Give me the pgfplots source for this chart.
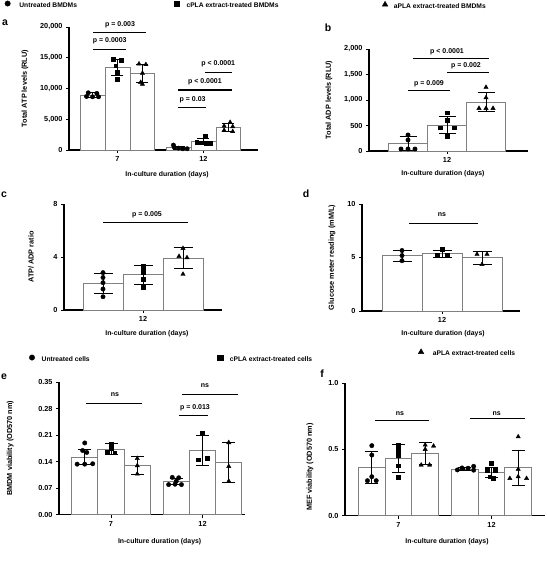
\documentclass[border=0pt]{standalone}
\usepackage{fontspec}
\setmainfont{Liberation Sans}
\usepackage{pgfplots}
\pgfplotsset{compat=1.18}

\newcommand\tfont{\fontsize{7.3}{8}\selectfont\bfseries}
\newcommand\xlfont{\fontsize{6.9}{8}\selectfont\bfseries}
\newcommand\ylfont{\fontsize{7.3}{8}\selectfont\bfseries}
\newcommand\pfont{\fontsize{7}{8}\selectfont\bfseries}
\newcommand\gfont{\fontsize{6.7}{8}\selectfont\bfseries}
\newcommand\letfont{\fontsize{10.5}{12}\selectfont\bfseries}

\pgfplotsset{
  panel/.style={
    scale only axis, axis lines*=left, clip=false, ymin=0,
    scaled ticks=false,
    axis line style={black, line width=1.3pt},
    every tick/.style={black, line width=0.9pt},
    major tick length=3pt, tick align=outside,
    ticklabel style={font=\tfont},
    /pgf/number format/assume math mode=true,
    legend style={draw=none, fill=none, inner sep=0pt, font=\gfont,
      nodes={inner sep=0pt}, /tikz/column sep=0pt,
      /tikz/every even column/.style={column sep=0pt},
      /tikz/every odd column/.style={column sep=0pt}},
    legend cell align=left,
  },
  xl/.style 2 args={xlabel style={at={(axis description cs:#1,#2)}, anchor=center, font=\xlfont}},
  yl/.style 2 args={ylabel style={at={(axis description cs:#1,#2)}, anchor=center, font=\ylfont}},
  mybar/.style 2 args={ybar, bar shift=0pt, bar width=#1, fill=white, draw=black!50,
    line width=0.9pt, forget plot,
    error bars/y dir=both, error bars/y explicit,
    error bars/error bar style={black, line width=1pt},
    error bars/error mark options={rotate=90, black, line width=1pt, mark size=#2}},
  pc/.style={only marks, mark=*, black, mark size=2.2pt, forget plot},
  ps/.style={only marks, mark=square*, black, mark size=1.9pt, forget plot},
  pt/.style={only marks, mark=triangle*, black, mark size=2.5pt, forget plot},
  brk/.style={black, line width=1.2pt, no markers, forget plot},
  legc/.style={legend image code/.code={\draw[black, fill=black, mark=*, mark size=2.7pt, only marks] plot coordinates {(0pt,2.4pt)};}},
  legs/.style={legend image code/.code={\draw[black, fill=black, mark=square*, mark size=2.6pt, only marks] plot coordinates {(0pt,2.4pt)};}},
  legt/.style={legend image code/.code={\draw[black, fill=black, mark=triangle*, mark size=3.2pt, only marks] plot coordinates {(0pt,2.0pt)};}},
}

\begin{document}
\begin{tikzpicture}

%% ---------------- panel a ----------------
\begin{axis}[panel, at={(69pt,411pt)}, anchor=south west,
  width=189pt, height=123pt, xmin=0.436, xmax=2.634, ymax=20000,
  xtick={1,2}, xticklabels={7,12},
  ytick={0,5000,10000,15000,20000}, yticklabels={0,{5,000},{10,000},{15,000},{20,000}},
  xlabel={In-culture duration (days)}, ylabel={Total ATP levels (RLU)},
  xl={0.519}{-0.203}, yl={-0.233}{0.5},
  legend columns=2, legend style={at={(-0.340,1.179)}, anchor=west}]
\addplot[mybar={0.29}{6pt}] coordinates {(0.71,8900) +- (0,400)};
\addplot[mybar={0.29}{6pt}] coordinates {(1,13440) +- (0,1300)};
\addplot[mybar={0.29}{6pt}] coordinates {(1.29,12420) +- (0,1500)};
\addplot[mybar={0.29}{6pt}] coordinates {(1.71,390) +- (0,250)};
\addplot[mybar={0.29}{6pt}] coordinates {(2,1390) +- (0,500)};
\addplot[mybar={0.29}{6pt}] coordinates {(2.29,3680) +- (0,650)};
\addplot[pc] coordinates {(0.66,9300) (0.76,9200) (0.64,8700) (0.71,8650) (0.78,8650)};
\addplot[ps] coordinates {(0.95,14750) (1.04,14650) (0.98,13700) (1.0,12600) (1.0,11500)};
\addplot[pt] coordinates {(1.25,14000) (1.33,13900) (1.29,12500) (1.27,11000) (1.29,10700)};
\addplot[pc] coordinates {(1.65,800) (1.66,450) (1.71,300) (1.76,200) (1.81,200)};
\addplot[ps] coordinates {(2.02,2200) (1.92,1300) (1.97,1200) (2.03,1150) (2.08,1100)};
\addplot[pt] coordinates {(2.31,4500) (2.24,3900) (2.34,3800) (2.24,3200) (2.34,3000)};
\addplot[brk] coordinates {(0.72,16374) (1.10,16374)};
\addplot[brk] coordinates {(0.72,19074) (1.33,19074)};
\addplot[brk] coordinates {(1.707,6943) (2.026,6943)};
\addplot[brk] coordinates {(1.707,9756) (2.335,9756)};
\addplot[brk] coordinates {(2.017,12634) (2.335,12634)};
\node[font=\pfont] at (axis cs:0.91,17770) {p = 0.0003};
\node[font=\pfont] at (axis cs:1.03,20325) {p = 0.003};
\node[font=\pfont] at (axis cs:1.874,8130) {p = 0.03};
\node[font=\pfont] at (axis cs:2.017,11105) {p < 0.0001};
\node[font=\pfont] at (axis cs:2.172,14097) {p < 0.0001};
\addlegendimage{legc}
\addlegendentry{\makebox[164pt][l]{\hspace{9pt}Untreated BMDMs}}
\addlegendimage{legs}
\addlegendentry{\makebox[100pt][l]{\hspace{7pt}cPLA extract-treated BMDMs}}
\end{axis}

%% ---------------- panel b ----------------
\begin{axis}[panel, at={(369pt,410pt)}, anchor=south west,
  width=159pt, height=102pt, xmin=0.22, xmax=1.81, ymax=2000,
  xtick={1}, xticklabels={12},
  ytick={0,500,1000,1500,2000}, yticklabels={0,500,{1,000},{1,500},{2,000}},
  xlabel={In-culture duration (days)}, ylabel={Total ADP levels (RLU)},
  xl={0.465}{-0.225}, yl={-0.252}{0.5},
  legend columns=1, legend style={at={(0.0824,1.4265)}, anchor=west}]
\addplot[mybar={0.39}{8.5pt}] coordinates {(0.61,140) +- (0,140)};
\addplot[mybar={0.39}{8.5pt}] coordinates {(1,510) +- (0,170)};
\addplot[mybar={0.39}{8.5pt}] coordinates {(1.39,960) +- (0,185)};
\addplot[pc] coordinates {(0.61,314) (0.61,216) (0.54,39) (0.61,39) (0.68,39)};
\addplot[ps] coordinates {(1,751) (1,608) (0.93,457) (1.07,457) (1,294)};
\addplot[pt] coordinates {(1.39,1249) (1.39,1045) (1.32,837) (1.39,837) (1.46,837)};
\addplot[brk] coordinates {(0.61,1182) (1.03,1182)};
\addplot[brk] coordinates {(1.0,1543) (1.42,1543)};
\addplot[brk] coordinates {(0.66,1818) (1.42,1818)};
\node[font=\pfont] at (axis cs:0.82,1320) {p = 0.009};
\node[font=\pfont] at (axis cs:1.19,1675) {p = 0.002};
\node[font=\pfont] at (axis cs:1.0,1950) {p < 0.0001};
\addlegendimage{legt}
\addlegendentry{\hspace{6pt}aPLA extract-treated BMDMs}
\end{axis}

%% ---------------- panel c ----------------
\begin{axis}[panel, at={(64pt,251pt)}, anchor=south west,
  width=158pt, height=106pt, xmin=0.21, xmax=1.79, ymax=8,
  xtick={1}, xticklabels={12}, ytick={0,4,8}, yticklabels={0,4,8},
  xlabel={In-culture duration (days)}, ylabel={ATP/ ADP ratio},
  xl={0.525}{-0.226}, yl={-0.209}{0.5}]
\addplot[mybar={0.40}{9.5pt}] coordinates {(0.6,2.0) +- (0,0.73)};
\addplot[mybar={0.40}{9.5pt}] coordinates {(1,2.65) +- (0,0.69)};
\addplot[mybar={0.40}{9.5pt}] coordinates {(1.4,3.9) +- (0,0.8)};
\addplot[pc] coordinates {(0.6,2.82) (0.6,2.45) (0.6,2.06) (0.6,1.58) (0.6,1.0)};
\addplot[ps] coordinates {(1,3.35) (1,3.15) (1,2.85) (1,2.3) (1,1.7)};
\addplot[pt] coordinates {(1.4,4.65) (1.36,4.05) (1.44,3.95) (1.4,2.7)};
\addplot[brk] coordinates {(0.6,6.59) (1.45,6.59)};
\node[font=\pfont] at (axis cs:1.04,7.17) {p = 0.005};
\end{axis}

%% ---------------- panel d ----------------
\begin{axis}[panel, at={(362pt,250pt)}, anchor=south west,
  width=158pt, height=107pt, xmin=0.20, xmax=1.78, ymax=10,
  xtick={1}, xticklabels={12}, ytick={0,5,10}, yticklabels={0,5,10},
  xlabel={In-culture duration (days)}, ylabel={Glucose meter reading (mM/L)},
  xl={0.513}{-0.215}, yl={-0.19}{0.5}]
\addplot[mybar={0.40}{9.5pt}] coordinates {(0.6,5.17) +- (0,0.5)};
\addplot[mybar={0.40}{9.5pt}] coordinates {(1,5.36) +- (0,0.34)};
\addplot[mybar={0.40}{9.5pt}] coordinates {(1.4,4.98) +- (0,0.6)};
\addplot[pc] coordinates {(0.6,5.65) (0.6,5.18) (0.6,4.7)};
\addplot[ps] coordinates {(1,5.76) (0.95,5.23) (1.05,5.23)};
\addplot[pt] coordinates {(1.35,5.3) (1.45,5.3) (1.4,4.35)};
\addplot[brk] coordinates {(0.67,8.2) (1.36,8.2)};
\node[font=\pfont] at (axis cs:1.0,8.97) {ns};
\end{axis}

%% ---------------- panel e ----------------
\begin{axis}[panel, at={(59pt,46.5pt)}, anchor=south west,
  width=186pt, height=132.5pt, xmin=0.4317, xmax=2.4645, ymax=0.35,
  xtick={1,2}, xticklabels={7,12},
  ytick={0,0.07,0.14,0.21,0.28,0.35}, yticklabels={0.00,0.07,0.14,0.21,0.28,0.35},
  xlabel={In-culture duration (days)}, ylabel={BMDM viability (OD570 nm)},
  xl={0.541}{-0.208}, yl={-0.262}{0.5},
  legend columns=2, legend style={at={(-0.1608,1.1736)}, anchor=west}]
\addplot[mybar={0.287}{6.5pt}] coordinates {(0.713,0.152) +- (0,0.021)};
\addplot[mybar={0.287}{6.5pt}] coordinates {(1,0.173) +- (0,0.015)};
\addplot[mybar={0.287}{6.5pt}] coordinates {(1.287,0.129) +- (0,0.023)};
\addplot[mybar={0.287}{6.5pt}] coordinates {(1.713,0.087) +- (0,0.009)};
\addplot[mybar={0.287}{6.5pt}] coordinates {(2,0.169) +- (0,0.04)};
\addplot[mybar={0.287}{6.5pt}] coordinates {(2.287,0.137) +- (0,0.052)};
\addplot[pc] coordinates {(0.713,0.189) (0.69,0.169) (0.735,0.164) (0.63,0.133) (0.713,0.133) (0.80,0.134)};
\addplot[ps] coordinates {(1,0.187) (1,0.176) (0.96,0.164) (1.04,0.163)};
\addplot[pt] coordinates {(1.287,0.148) (1.287,0.129) (1.287,0.107)};
\addplot[pc] coordinates {(1.67,0.098) (1.74,0.097) (1.63,0.079) (1.70,0.080) (1.77,0.079) (1.713,0.088)};
\addplot[ps] coordinates {(2.0,0.215) (1.95,0.145) (2.05,0.148)};
\addplot[pt] coordinates {(2.287,0.19) (2.287,0.127) (2.287,0.088)};
\addplot[brk] coordinates {(0.727,0.294) (1.335,0.294)};
\addplot[brk] coordinates {(1.773,0.318) (2.385,0.318)};
\addplot[brk] coordinates {(1.743,0.261) (2.063,0.261)};
\node[font=\pfont] at (axis cs:1.044,0.316) {ns};
\node[font=\pfont] at (axis cs:2.027,0.340) {ns};
\node[font=\pfont] at (axis cs:1.918,0.283) {p = 0.013};
\addlegendimage{legc}
\addlegendentry{\makebox[183pt][l]{\hspace{7pt}Untreated cells}}
\addlegendimage{legs}
\addlegendentry{\makebox[90pt][l]{\hspace{7pt}cPLA extract-treated cells}}
\end{axis}

%% ---------------- panel f ----------------
\begin{axis}[panel, at={(345pt,45.3pt)}, anchor=south west,
  width=200pt, height=132.7pt, xmin=0.4247, xmax=2.5753, ymax=1.0,
  xtick={1,2}, xticklabels={7,12},
  ytick={0,0.5,1}, yticklabels={0.0,0.5,1.0},
  xlabel={In-culture duration (days)}, ylabel={MEF viability (OD570 nm)},
  xl={0.51}{-0.198}, yl={-0.175}{0.367},
  legend columns=1, legend style={at={(0.3655,1.226)}, anchor=west}]
\addplot[mybar={0.287}{6.5pt}] coordinates {(0.713,0.362) +- (0,0.12)};
\addplot[mybar={0.287}{6.5pt}] coordinates {(1,0.432) +- (0,0.103)};
\addplot[mybar={0.287}{6.5pt}] coordinates {(1.287,0.47) +- (0,0.083)};
\addplot[mybar={0.287}{6.5pt}] coordinates {(1.713,0.352) +- (0,0.013)};
\addplot[mybar={0.287}{6.5pt}] coordinates {(2,0.326) +- (0,0.04)};
\addplot[mybar={0.287}{6.5pt}] coordinates {(2.287,0.362) +- (0,0.132)};
\addplot[pc] coordinates {(0.713,0.528) (0.713,0.457) (0.713,0.294) (0.666,0.264) (0.76,0.264)};
\addplot[ps] coordinates {(1,0.533) (1,0.495) (1,0.457) (1,0.377) (1,0.289)};
\addplot[pt] coordinates {(1.287,0.533) (1.377,0.525) (1.287,0.5) (1.244,0.382) (1.334,0.382)};
\addplot[pc] coordinates {(1.633,0.345) (1.683,0.36) (1.748,0.358) (1.808,0.372) (1.808,0.343)};
\addplot[ps] coordinates {(2,0.394) (1.95,0.344) (2.04,0.344) (1.98,0.294) (2.02,0.281)};
\addplot[pt] coordinates {(2.287,0.595) (2.287,0.35) (2.197,0.281) (2.287,0.294) (2.377,0.281)};
\addplot[brk] coordinates {(0.747,0.72) (1.328,0.72)};
\addplot[brk] coordinates {(1.769,0.735) (2.36,0.735)};
\node[font=\pfont] at (axis cs:1.016,0.77) {ns};
\node[font=\pfont] at (axis cs:2.056,0.772) {ns};
\addlegendimage{legt}
\addlegendentry{\hspace{9pt}aPLA extract-treated cells}
\end{axis}

%% panel letters
\node[font=\letfont] at (5pt,538pt) {a};
\node[font=\letfont] at (328pt,533pt) {b};
\node[font=\letfont] at (4pt,366pt) {c};
\node[font=\letfont] at (306pt,367pt) {d};
\node[font=\letfont] at (4pt,184pt) {e};
\node[font=\letfont] at (322pt,187pt) {f};

\pgfresetboundingbox
\path[use as bounding box] (0pt,0pt) rectangle (546pt,561pt);
\end{tikzpicture}
\end{document}
